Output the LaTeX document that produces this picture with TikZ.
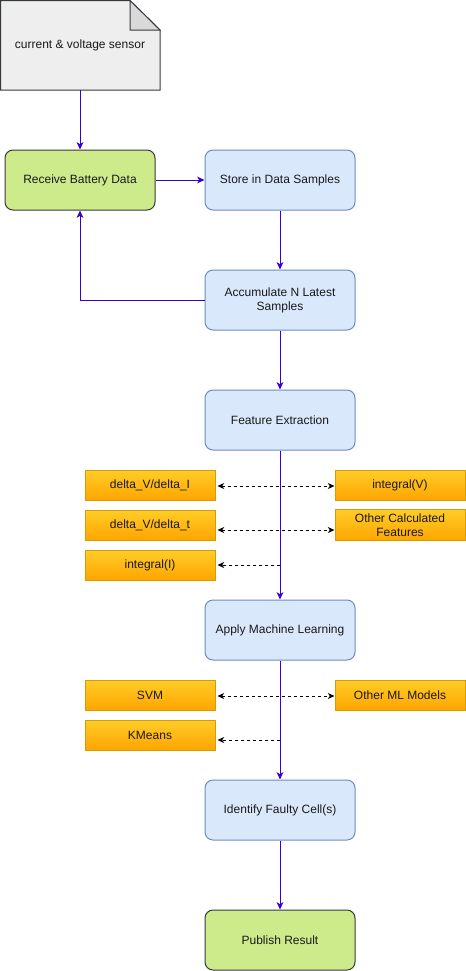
\documentclass[tikz,border=0pt]{standalone}
\usepackage{fontspec}
\setmainfont{Liberation Sans}
\usetikzlibrary{arrows.meta}
\definecolor{fleche}{HTML}{3700CC}
\definecolor{fondbleu}{HTML}{DAE8FC}
\definecolor{bordbleu}{HTML}{6C8EBF}
\definecolor{fondvert}{HTML}{CDEB8B}
\definecolor{bordgris}{HTML}{36393D}
\definecolor{fondnote}{HTML}{EEEEEE}
\definecolor{pli}{HTML}{D9D9D9}
\definecolor{orhaut}{HTML}{FFCD28}
\definecolor{orbas}{HTML}{FFA500}
\definecolor{bordor}{HTML}{D79B00}
\begin{document}
\begin{tikzpicture}[x=0.75pt,y=-0.75pt,line width=0.75pt,
    every node/.style={font=\fontsize{9}{10.5}\selectfont, text=black!90},
    bloc/.style={rectangle, rounded corners=6pt, minimum width=112.5pt, minimum height=45pt, align=center},
    bleu/.style={bloc, draw=bordbleu, fill=fondbleu},
    vert/.style={bloc, draw=bordgris, fill=fondvert},
    orange/.style={rectangle, draw=bordor, top color=orhaut, bottom color=orbas, minimum width=97.5pt, minimum height=22.5pt, align=center},
    lien/.style={draw=fleche, -{Stealth[length=5.5pt,width=5pt,inset=1.5pt]}},
    tiret/.style={draw=black, dashed, dash pattern=on 2.25pt off 2.25pt, {Stealth[length=5pt,width=4.5pt,inset=1.5pt]}-{Stealth[length=5pt,width=4.5pt,inset=1.5pt]}},
    tiretun/.style={draw=black, dash pattern=on 2.25pt off 2.25pt, -{Stealth[length=5pt,width=4.5pt,inset=1.5pt]}}]

    \useasboundingbox (0,0) rectangle (466,971);

    \draw [draw=bordgris, fill=fondnote] (0.5,0.5) -- (130,0.5) -- (160,30) -- (160,90) -- (0.5,90) -- cycle;
    \draw [draw=bordgris, fill=pli] (130,0.5) -- (130,30) -- (160,30) -- cycle;
    \node [minimum width=120pt, minimum height=67.5pt] (sensor) at (80,45) {current \& voltage sensor};

    \node [vert] (recv) at (80,180) {Receive Battery Data};
    \node [bleu] (store) at (280,180) {Store in Data Samples};
    \node [bleu] (accu) at (280,300) {Accumulate N Latest\\Samples};
    \node [bleu] (feat) at (280,420) {Feature Extraction};
    \node [bleu] (ml) at (280,630) {Apply Machine Learning};
    \node [bleu] (fault) at (280,810) {Identify Faulty Cell(s)};
    \node [vert] (pub) at (280,940) {Publish Result};

    \node [orange] (dvdi) at (150,485) {delta\_V/delta\_I};
    \node [orange] (intv) at (400,485) {integral(V)};
    \node [orange] (dvdt) at (150,525) {delta\_V/delta\_t};
    \node [orange] (other) at (400,525) {Other Calculated\\Features};
    \node [orange] (inti) at (150,565) {integral(I)};
    \node [orange] (svm) at (150,695) {SVM};
    \node [orange] (otherml) at (400,695) {Other ML Models};
    \node [orange] (kmeans) at (150,735) {KMeans};

    \coordinate (f1) at (280,486);
    \coordinate (f2) at (280,530);
    \coordinate (f3) at (280,565);
    \coordinate (m1) at (280,696);
    \coordinate (m2) at (280,740);

    \draw [lien] (sensor.south |- 0,90) -- (recv.north);
    \draw [lien] (recv.east) -- (store.west);
    \draw [lien] (store.south) -- (accu.north);
    \draw [lien] (accu.west) -| (recv.south);
    \draw [lien] (accu.south) -- (feat.north);
    \draw [lien] (feat.south) -- (ml.north);
    \draw [lien] (ml.south) -- (fault.north);
    \draw [lien] (fault.south) -- (pub.north);

    \draw [tiret] ([xshift=1.5pt]dvdi.east |- f1) -- (intv.west |- f1);
    \draw [tiret] ([xshift=1.5pt]dvdt.east |- f2) -- (other.west |- f2);
    \draw [tiretun] (f3) -- ([xshift=1.5pt]inti.east |- f3);
    \draw [tiret] ([xshift=1.5pt]svm.east |- m1) -- (otherml.west |- m1);
    \draw [tiretun] (m2) -- ([xshift=1.5pt]kmeans.east |- m2);

\end{tikzpicture}
\end{document}
